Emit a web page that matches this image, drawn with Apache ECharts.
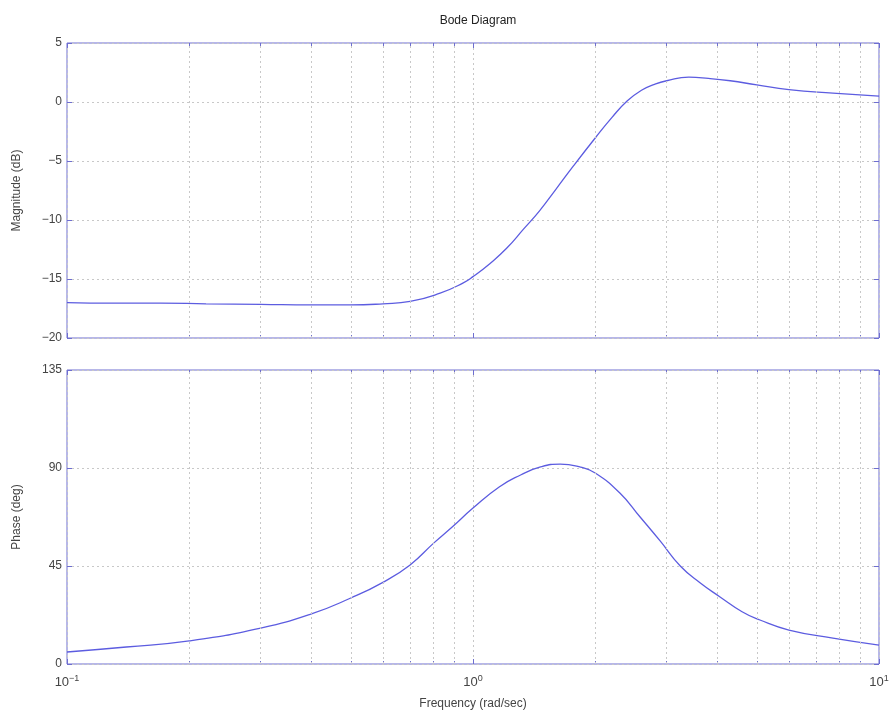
<!DOCTYPE html>
<html><head><meta charset="utf-8">
<script src="https://cdn.jsdelivr.net/npm/echarts@6/dist/echarts.min.js"></script>
<style>html,body{margin:0;padding:0;background:#fff}#c{width:895px;height:721px}</style>
</head><body><div id="c"></div>
<script>
const magFreq = [0.1, 0.13, 0.17, 0.22, 0.3, 0.4, 0.5, 0.6, 0.7, 0.83, 0.944, 1.0, 1.1, 1.21, 1.33, 1.46, 1.6, 1.76, 2.0, 2.2, 2.4, 2.6, 2.8, 3.0, 3.4, 3.8, 4.3, 5.0, 6.0, 7.7, 10];
const magDb   = [-17.0, -17.05, -17.05, -17.1, -17.15, -17.2, -17.2, -17.1, -16.9, -16.2, -15.35, -14.8, -13.7, -12.4, -10.8, -9.2, -7.4, -5.5, -3.05, -1.3, 0.1, 1.0, 1.5, 1.8, 2.1, 2.0, 1.8, 1.45, 1.05, 0.75, 0.5];
const phaseFreq = [0.1, 0.14, 0.2, 0.3, 0.4, 0.5, 0.6, 0.7, 0.8, 0.89, 1.0, 1.16, 1.31, 1.46, 1.64, 1.84, 2.0, 2.3, 2.58, 2.89, 3.24, 3.63, 4.06, 4.6, 5.09, 6.0, 7.7, 10];
const phaseDeg  = [5.5, 7.8, 10.6, 16.5, 23, 30.3, 37.5, 45.5, 55.5, 63, 71.6, 81.3, 86.8, 90.4, 91.8, 90.4, 87.7, 78.5, 67.5, 56.5, 45, 37.2, 30.8, 24, 20.2, 15.6, 11.9, 8.7];
const minorFreq = [0.2,0.3,0.4,0.5,0.6,0.7,0.8,0.9,2,3,4,5,6,7,8,9];
const magTicks = [-20, 5, 5];      // min, max, interval
const phaseTicks = [0, 135, 45];

const lineColor = '#5c5ce0';
const boxColor = '#6e6ed0';
const gridColor = '#c8c8c8';
const textColor = '#444';
const font = 'Liberation Sans, Arial, sans-serif';

const chart = echarts.init(document.getElementById('c'));
const grids = [
  {left: 67, top: 43, width: 812, height: 295, show: true, borderColor: boxColor, borderWidth: 1},
  {left: 67, top: 370, width: 812, height: 294, show: true, borderColor: boxColor, borderWidth: 1}
];
function xAx(i, showLabel, pos) {
  return {
    type: 'log', logBase: 10, min: 0.1, max: 10, gridIndex: i, position: pos || 'bottom',
    axisLine: {show: false, onZero: false},
    axisTick: {show: true, inside: true, length: 5, lineStyle: {color: boxColor}},
    minorTick: {show: true, splitNumber: 9, length: 3, lineStyle: {color: boxColor}},
    splitLine: {show: pos !== 'top', lineStyle: {color: gridColor, type: [2, 3]}},
    axisLabel: {show: showLabel, color: textColor, fontFamily: font, fontSize: 13, margin: 10,
      formatter: v => '{b|10}{s|' + String(Math.round(Math.log10(v))).replace('-', '−') + '}',
      rich: {b: {fontSize: 13, color: textColor, fontFamily: font}, s: {fontSize: 9, color: textColor, fontFamily: font, verticalAlign: 'top', padding: [0,0,8,0]}}},
    name: showLabel ? 'Frequency (rad/sec)' : '', nameLocation: 'middle', nameGap: 34,
    nameTextStyle: {color: textColor, fontFamily: font, fontSize: 12}
  };
}
function yAx(i, r, name, pos) {
  const right = pos === 'right';
  return {
    type: 'value', gridIndex: i, min: r[0], max: r[1], interval: r[2], position: pos || 'left',
    axisLine: {show: false, onZero: false},
    axisTick: {show: true, inside: true, length: 5, lineStyle: {color: boxColor}},
    splitLine: {show: !right, lineStyle: {color: gridColor, type: [2, 3]}},
    axisLabel: {show: !right, color: textColor, fontFamily: font, fontSize: 12, margin: 5,
      formatter: v => String(v).replace('-', '−')},
    name: right ? '' : name, nameLocation: 'middle', nameGap: 44, nameRotate: 90,
    nameTextStyle: {color: textColor, fontFamily: font, fontSize: 12}
  };
}
const minorLines = {
  silent: true, symbol: 'none', label: {show: false},
  lineStyle: {color: gridColor, type: [2, 3], width: 1},
  data: minorFreq.map(f => ({xAxis: f}))
};
chart.setOption({
  animation: false,
  title: {text: 'Bode Diagram', left: 473, top: 10, textAlign: 'center',
    textStyle: {fontSize: 12, fontWeight: 'normal', color: '#222', fontFamily: font}},
  grid: grids,
  xAxis: [xAx(0, false), xAx(1, true), xAx(0, false, 'top'), xAx(1, false, 'top')],
  yAxis: [yAx(0, magTicks, 'Magnitude (dB)'), yAx(1, phaseTicks, 'Phase (deg)'),
          yAx(0, magTicks, '', 'right'), yAx(1, phaseTicks, '', 'right')],
  series: [
    {type: 'line', xAxisIndex: 0, yAxisIndex: 0, showSymbol: false, smooth: 0.5,
     lineStyle: {color: lineColor, width: 1.3}, data: magFreq.map((f, k) => [f, magDb[k]]), markLine: minorLines},
    {type: 'line', xAxisIndex: 1, yAxisIndex: 1, showSymbol: false, smooth: 0.5,
     lineStyle: {color: lineColor, width: 1.3}, data: phaseFreq.map((f, k) => [f, phaseDeg[k]]), markLine: minorLines}
  ]
});
</script></body></html>
